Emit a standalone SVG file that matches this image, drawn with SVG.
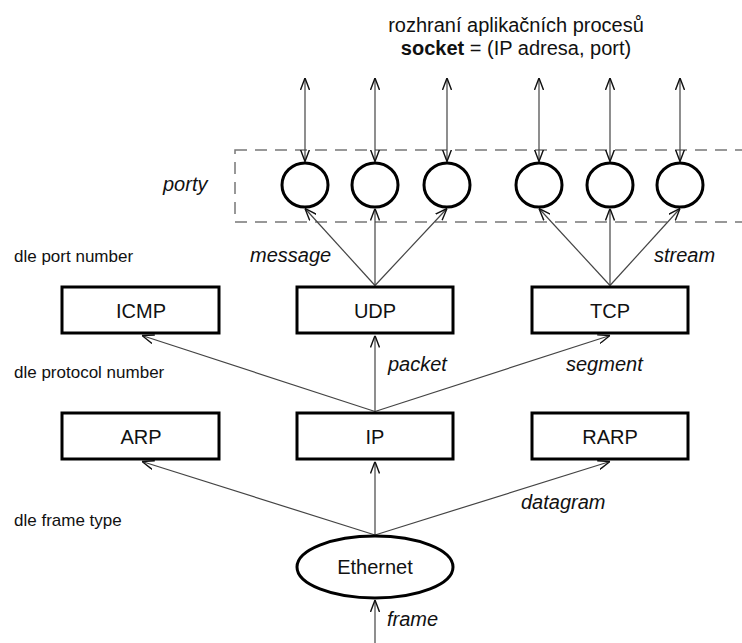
<svg xmlns="http://www.w3.org/2000/svg" width="742" height="643" viewBox="0 0 742 643">
<style>
  text { font-family: "Liberation Sans", Arial, sans-serif; fill: #111; }
  .node { font-size: 20px; text-anchor: middle; }
  .lbl { font-size: 20px; font-style: italic; }
  .side { font-size: 17px; }
  .title { font-size: 20px; text-anchor: middle; }
  .box { fill: #fff; stroke: #000; stroke-width: 3; }
  .port { fill: #fff; stroke: #000; stroke-width: 3; }
  .conn { fill: none; stroke: #444; stroke-width: 1.2; marker-end: url(#ah); }
  .both { marker-start: url(#ah); }
</style>
<defs>
  <marker id="ah" viewBox="0 0 12 10" refX="12" refY="5" markerWidth="12" markerHeight="10" markerUnits="userSpaceOnUse" orient="auto-start-reverse">
    <path d="M0,0.5 L12,5 L0,9.5" fill="none" stroke="#111" stroke-width="1.4"/>
  </marker>
</defs>
<rect width="742" height="643" fill="#fff"/>

<g id="title">
  <text class="title" x="516" y="32">rozhraní aplikačních procesů</text>
  <text class="title" x="516" y="55"><tspan font-weight="bold">socket</tspan> = (IP adresa, port)</text>
</g>

<g id="ports-area">
  <rect x="235" y="150" width="530" height="72" fill="none" stroke="#777" stroke-width="1.5" stroke-dasharray="12 8"/>
  <text class="lbl" x="163" y="191">porty</text>
</g>

<g id="side-labels">
  <text class="side" x="14" y="262">dle port number</text>
  <text class="side" x="14" y="378">dle protocol number</text>
  <text class="side" x="14" y="526">dle frame type</text>
</g>

<g id="connectors">
  <line class="conn both" x1="305" y1="78" x2="305" y2="161.5"/>
  <line class="conn both" x1="375" y1="78" x2="375" y2="161.5"/>
  <line class="conn both" x1="447" y1="78" x2="447" y2="161.5"/>
  <line class="conn both" x1="539" y1="78" x2="539" y2="161.5"/>
  <line class="conn both" x1="610" y1="78" x2="610" y2="161.5"/>
  <line class="conn both" x1="680" y1="78" x2="680" y2="161.5"/>

  <line class="conn" x1="375" y1="285.5" x2="305" y2="208.5"/>
  <line class="conn" x1="375" y1="285.5" x2="375" y2="208.5"/>
  <line class="conn" x1="375" y1="285.5" x2="447" y2="208.5"/>
  <line class="conn" x1="610" y1="285.5" x2="539" y2="208.5"/>
  <line class="conn" x1="610" y1="285.5" x2="610" y2="208.5"/>
  <line class="conn" x1="610" y1="285.5" x2="680" y2="208.5"/>

  <line class="conn" x1="375" y1="411.5" x2="142" y2="335.5"/>
  <line class="conn" x1="375" y1="411.5" x2="375" y2="335.5"/>
  <line class="conn" x1="375" y1="411.5" x2="610" y2="335.5"/>

  <line class="conn" x1="375" y1="535" x2="142" y2="461.5"/>
  <line class="conn" x1="375" y1="535" x2="375" y2="461.5"/>
  <line class="conn" x1="375" y1="535" x2="610" y2="461.5"/>

  <line class="conn" x1="375" y1="643" x2="375" y2="600"/>

  <text class="lbl" x="250" y="262">message</text>
  <text class="lbl" x="654" y="262">stream</text>
  <text class="lbl" x="388" y="371">packet</text>
  <text class="lbl" x="566" y="371">segment</text>
  <text class="lbl" x="521" y="509">datagram</text>
  <text class="lbl" x="387" y="626">frame</text>
</g>

<g id="port1"><ellipse class="port" cx="305" cy="185" rx="23" ry="22"/></g>
<g id="port2"><ellipse class="port" cx="375" cy="185" rx="23" ry="22"/></g>
<g id="port3"><ellipse class="port" cx="447" cy="185" rx="23" ry="22"/></g>
<g id="port4"><ellipse class="port" cx="539" cy="185" rx="23" ry="22"/></g>
<g id="port5"><ellipse class="port" cx="610" cy="185" rx="23" ry="22"/></g>
<g id="port6"><ellipse class="port" cx="680" cy="185" rx="23" ry="22"/></g>

<g id="icmp"><rect class="box" x="62" y="287" width="157" height="46"/><text class="node" x="141" y="318">ICMP</text></g>
<g id="udp"><rect class="box" x="297" y="287" width="156" height="46"/><text class="node" x="375" y="318">UDP</text></g>
<g id="tcp"><rect class="box" x="532" y="287" width="156" height="46"/><text class="node" x="610" y="318">TCP</text></g>

<g id="arp"><rect class="box" x="62" y="413" width="157" height="46"/><text class="node" x="141" y="444">ARP</text></g>
<g id="ip"><rect class="box" x="297" y="413" width="156" height="46"/><text class="node" x="375" y="444">IP</text></g>
<g id="rarp"><rect class="box" x="532" y="413" width="156" height="46"/><text class="node" x="610" y="444">RARP</text></g>

<g id="ethernet"><ellipse class="port" cx="375" cy="567" rx="78" ry="31"/><text class="node" x="375" y="574">Ethernet</text></g>
</svg>
